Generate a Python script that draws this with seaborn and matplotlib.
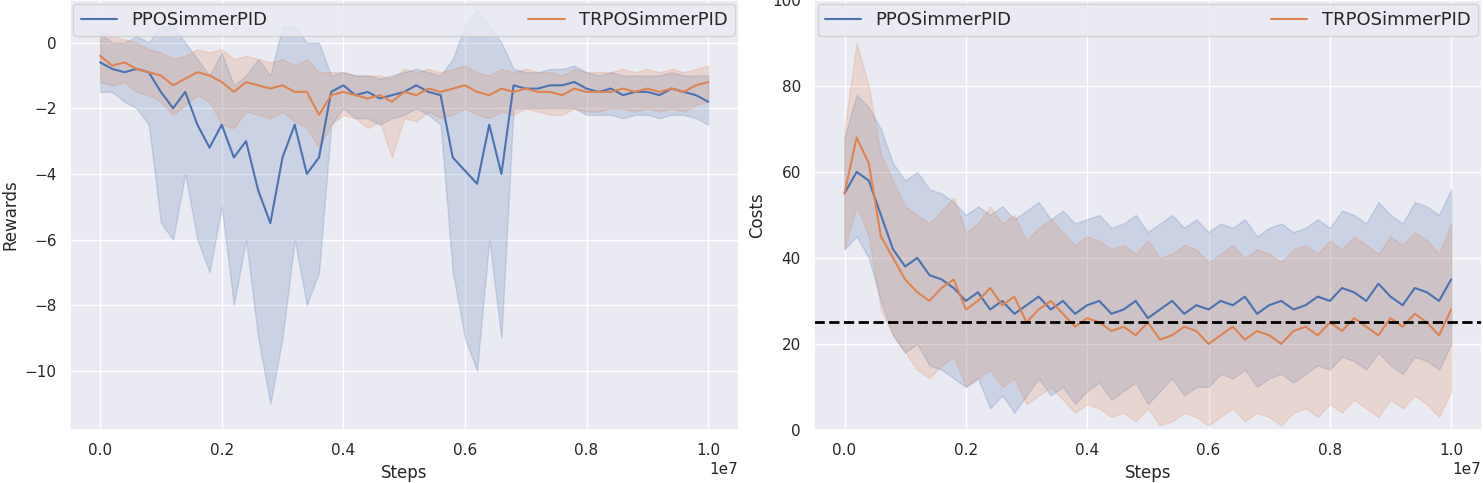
import numpy as np
import pandas as pd
import matplotlib
matplotlib.use("Agg")
import matplotlib.pyplot as plt
import seaborn as sns

# steps, one point every 0.2e6
steps = [i * 0.2e6 for i in range(51)]

ppo_rew = [-0.6,-0.8,-0.9,-0.8,-0.9,-1.5,-2.0,-1.5,-2.5,-3.2,-2.5,-3.5,-3.0,-4.5,-5.5,-3.5,-2.5,-4.0,-3.5,-1.5,
           -1.3,-1.6,-1.5,-1.7,-1.6,-1.5,-1.3,-1.5,-1.6,-3.5,-3.9,-4.3,-2.5,-4.0,-1.3,-1.4,-1.4,-1.3,-1.3,-1.2,
           -1.4,-1.5,-1.4,-1.6,-1.5,-1.5,-1.6,-1.4,-1.5,-1.6,-1.8]
ppo_rew_lo = [-1.5,-1.5,-1.8,-2,-2.5,-5.5,-6,-4,-6,-7,-5,-8,-6,-9,-11,-9,-6,-8,-7,-2.5,
              -2,-2.3,-2.3,-2.5,-2.3,-2.2,-2,-2.2,-2.5,-7,-9,-10,-6,-9,-2,-2,-2,-2,-2,-2,
              -2.2,-2.2,-2.2,-2.3,-2.2,-2.2,-2.3,-2.2,-2.2,-2.3,-2.5]
ppo_rew_hi = [0.3,0,0,0.2,0,0.5,0.5,0,-0.5,-1,-0.3,-1.3,-1,-0.5,-1,0.5,0.5,0,0,-1,
              -0.9,-1,-1,-1.1,-1,-0.9,-0.8,-0.9,-1,-0.5,0.5,1,0.5,0,-0.8,-0.9,-0.9,-0.8,-0.8,-0.7,
              -0.9,-1,-0.9,-1,-1,-1,-1,-0.9,-1,-1,-1]
trpo_rew = [-0.4,-0.7,-0.6,-0.8,-0.9,-1.0,-1.3,-1.1,-0.9,-1.0,-1.2,-1.5,-1.2,-1.3,-1.4,-1.3,-1.5,-1.5,-2.2,-1.6,
            -1.5,-1.6,-1.7,-1.6,-1.8,-1.5,-1.6,-1.4,-1.5,-1.4,-1.3,-1.5,-1.6,-1.4,-1.5,-1.4,-1.5,-1.5,-1.6,-1.4,
            -1.5,-1.5,-1.5,-1.4,-1.5,-1.4,-1.5,-1.4,-1.5,-1.3,-1.2]
trpo_rew_lo = [-1.2,-1.3,-1.2,-1.5,-1.6,-1.8,-2.2,-1.9,-1.6,-1.8,-2.5,-2.6,-2.1,-2.2,-2.3,-2.1,-2.4,-2.6,-3.2,-2.5,
               -2.2,-2.3,-2.6,-2.4,-3.5,-2.3,-2.4,-2.1,-2.3,-2.2,-2.0,-2.2,-2.3,-2.1,-2.2,-2.0,-2.1,-2.2,-2.2,-2.0,
               -2.1,-2.1,-2.0,-2.0,-2.1,-2.0,-2.1,-2.0,-2.1,-1.9,-1.8]
trpo_rew_hi = [0.4,0.2,0.1,0.0,-0.2,-0.3,-0.5,-0.4,-0.2,-0.3,-0.2,-0.5,-0.4,-0.5,-0.6,-0.5,-0.7,-0.5,-0.9,-0.9,
               -0.9,-1.0,-1.0,-1.0,-1.1,-0.8,-0.9,-0.8,-0.9,-0.8,-0.7,-0.9,-1.0,-0.8,-0.9,-0.8,-0.9,-0.9,-1.0,-0.8,
               -0.9,-0.9,-0.9,-0.8,-0.9,-0.8,-0.9,-0.8,-0.9,-0.8,-0.7]

ppo_cost = [55,60,58,50,42,38,40,36,35,33,30,32,28,30,27,29,31,28,30,27,
            29,30,27,28,30,26,28,30,27,29,28,30,29,31,27,29,30,28,29,31,
            30,33,32,30,34,31,29,33,32,30,35]
ppo_cost_lo = [42,45,40,30,22,18,20,15,14,12,10,12,5,8,4,8,12,8,10,6,
               9,11,7,9,11,6,9,12,8,10,10,13,12,14,10,12,13,11,13,15,
               14,17,16,14,18,15,13,17,16,14,20]
ppo_cost_hi = [68,78,75,70,62,58,60,56,55,53,50,52,50,52,49,51,53,49,51,48,
               49,50,47,48,50,46,48,50,47,49,46,48,47,49,45,47,48,46,47,49,
               47,51,50,48,53,50,48,53,52,50,56]
trpo_cost = [55,68,62,45,40,35,32,30,33,35,28,30,33,29,31,25,28,30,27,24,
             26,25,23,24,22,25,21,22,24,23,20,22,24,21,23,22,20,23,24,22,
             25,23,26,24,22,26,24,27,25,22,28]
trpo_cost_lo = [42,52,45,28,22,18,14,12,15,17,10,12,14,10,12,6,8,10,7,4,
                6,5,3,4,2,5,1,2,4,3,1,3,5,2,4,3,1,4,5,3,
                6,4,7,5,3,7,5,8,6,3,9]
trpo_cost_hi = [70,90,80,64,58,52,50,48,51,54,46,48,52,48,50,44,47,49,46,43,
                45,44,42,43,41,44,40,41,43,42,39,41,43,40,42,41,39,42,43,41,
                44,42,45,43,41,45,43,46,44,41,48]

sns.set_theme(style="darkgrid")
blue, orange = sns.color_palette("deep")[0], sns.color_palette("deep")[1]

fig = plt.figure(figsize=(14.83, 4.83), dpi=100)
ax_l = fig.add_axes([0.047, 0.11, 0.451, 0.89])
ax_r = fig.add_axes([0.549, 0.11, 0.450, 0.89])

panels = [
    (ax_l, "Rewards", [(ppo_rew, ppo_rew_lo, ppo_rew_hi, "PPOSimmerPID", blue),
                       (trpo_rew, trpo_rew_lo, trpo_rew_hi, "TRPOSimmerPID", orange)]),
    (ax_r, "Costs", [(ppo_cost, ppo_cost_lo, ppo_cost_hi, "PPOSimmerPID", blue),
                     (trpo_cost, trpo_cost_lo, trpo_cost_hi, "TRPOSimmerPID", orange)]),
]

for ax, ylab, series in panels:
    for mean, lo, hi, name, col in series:
        df = pd.DataFrame({"Steps": steps, ylab: mean})
        sns.lineplot(data=df, x="Steps", y=ylab, ax=ax, color=col, label=name, linewidth=1.5)
        ax.fill_between(steps, lo, hi, color=col, alpha=0.2, linewidth=1)
    ax.set_xlabel("Steps", fontsize=12)
    ax.set_ylabel(ylab, fontsize=12)
    ax.tick_params(labelsize=11)
    ax.legend(loc="upper left", bbox_to_anchor=(0, 1.0, 1, 0), mode="expand",
              ncol=2, fontsize=13, frameon=True, borderaxespad=0.2)

ax_l.set_ylim(-11.8, 1.3)
ax_r.set_ylim(0, 100)
ax_r.axhline(25, color="black", linestyle="--", linewidth=2)

plt.savefig("out.png")
